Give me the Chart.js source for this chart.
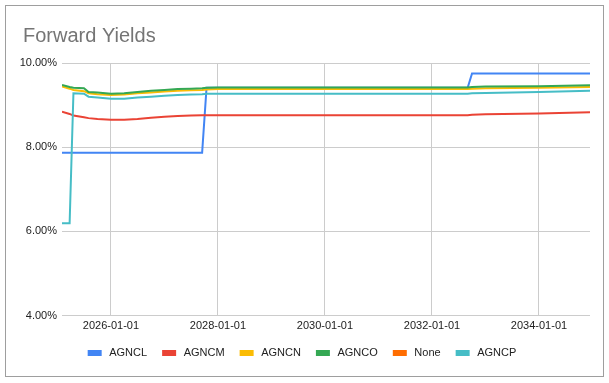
<!DOCTYPE html>
<html>
<head>
<meta charset="utf-8">
<script src="https://cdn.jsdelivr.net/npm/chart.js@4"></script>
<style>
  body { margin: 0; background: #fff; }
  #wrap { position: absolute; left: 0; top: 0; width: 609px; height: 383px; }
  #frame { position: absolute; left: 5px; top: 5px; width: 599px; height: 372px; border: 1px solid #9e9e9e; box-sizing: border-box; pointer-events: none; }
</style>
</head>
<body>
<div id="wrap"><canvas id="grafico" width="609" height="383"></canvas></div>
<div id="frame"></div>
<script>
// sample dates (shared by all series)
const datas = ['2025-02-01', '2025-03-25', '2025-04-20', '2025-07-01', '2025-08-01', '2025-10-01',
  '2026-01-01', '2026-04-01', '2026-07-01', '2026-10-01', '2027-01-01', '2027-04-01', '2027-07-01',
  '2027-09-15', '2027-10-15', '2028-01-01', '2029-01-01', '2030-01-01', '2031-01-01', '2032-01-01',
  '2032-09-01', '2032-10-01', '2033-01-01', '2034-01-01', '2034-12-15'];

const agncl = [7.87, 7.87, 7.87, 7.87, 7.87, 7.87, 7.87, 7.87, 7.87, 7.87, 7.87, 7.87, 7.87,
  7.87, 9.41, 9.41, 9.41, 9.41, 9.41, 9.41, 9.41, 9.75, 9.75, 9.75, 9.75];
const agncm = [8.84, 8.79, 8.75, 8.71, 8.69, 8.67, 8.65, 8.65, 8.67, 8.70, 8.72, 8.74, 8.75,
  8.76, 8.76, 8.76, 8.76, 8.76, 8.76, 8.76, 8.76, 8.77, 8.78, 8.80, 8.83];
const agncn = [9.44, 9.39, 9.36, 9.33, 9.28, 9.26, 9.24, 9.25, 9.28, 9.30, 9.32, 9.34, 9.35,
  9.36, 9.37, 9.38, 9.38, 9.38, 9.38, 9.38, 9.38, 9.39, 9.40, 9.41, 9.43];
const agnco = [9.48, 9.43, 9.41, 9.40, 9.31, 9.30, 9.27, 9.28, 9.31, 9.34, 9.36, 9.38, 9.39,
  9.40, 9.41, 9.42, 9.42, 9.42, 9.42, 9.42, 9.42, 9.43, 9.44, 9.45, 9.47];
const none = [];
const agncp = [6.19, 6.19, 9.28, 9.27, 9.20, 9.18, 9.15, 9.15, 9.18, 9.20, 9.22, 9.24, 9.25,
  9.26, 9.27, 9.27, 9.27, 9.27, 9.27, 9.27, 9.27, 9.28, 9.29, 9.31, 9.34];

const series = ['AGNCL', 'AGNCM', 'AGNCN', 'AGNCO', 'None', 'AGNCP'];
const cores = ['#4285f4', '#ea4335', '#fbbc04', '#34a853', '#ff6d01', '#46bdc6'];
const xTicks = [2026, 2028, 2030, 2032, 2034];
const yTicks = [4, 6, 8, 10];
const titulo = 'Forward Yields';

// date string -> decimal year
function anoDecimal(s) {
  const d = new Date(s + 'T00:00:00Z');
  const ini = Date.UTC(d.getUTCFullYear(), 0, 1);
  const fim = Date.UTC(d.getUTCFullYear() + 1, 0, 1);
  return d.getUTCFullYear() + (d - ini) / (fim - ini);
}
const xs = datas.map(anoDecimal);

function pontos(vals) {
  return vals.map((v, i) => ({ x: xs[i], y: v }));
}

const valores = [agncl, agncm, agncn, agnco, none, agncp];

const fonte = "'Liberation Sans', Arial, sans-serif";
Chart.defaults.font.family = fonte;

// title drawn at the left edge of the frame, like the sheets chart
const tituloPlugin = {
  id: 'tituloPlugin',
  afterDraw(chart) {
    const c = chart.ctx;
    c.save();
    c.font = '20px ' + fonte;
    c.fillStyle = '#757575';
    c.textBaseline = 'alphabetic';
    c.textAlign = 'left';
    c.fillText(titulo, 23, 42);
    c.restore();
  }
};

const ctx = document.getElementById('grafico');
new Chart(ctx, {
  type: 'line',
  data: {
    datasets: series.map((nome, i) => ({
      label: nome,
      data: pontos(valores[i]),
      borderColor: cores[i],
      backgroundColor: cores[i],
      borderWidth: 2,
      pointRadius: 0,
      tension: 0,
      order: series.length - i
    }))
  },
  options: {
    responsive: false,
    animation: false,
    devicePixelRatio: 1,
    layout: { padding: { left: 15, right: 19, top: 63, bottom: 14.5 } },
    plugins: {
      title: { display: false },
      legend: {
        position: 'bottom',
        labels: {
          boxWidth: 12,
          boxHeight: 4,
          padding: 16,
          color: '#222',
          font: { size: 11 },
          // a little more room between the box and the name
          generateLabels: (chart) => Chart.defaults.plugins.legend.labels.generateLabels(chart)
            .map(item => Object.assign(item, { text: ' ' + item.text })),
          sort: (a, b) => a.datasetIndex - b.datasetIndex
        }
      },
      tooltip: { enabled: false }
    },
    scales: {
      x: {
        type: 'linear',
        min: xs[0],
        max: xs[xs.length - 1],
        afterBuildTicks: (s) => { s.ticks = xTicks.map(v => ({ value: v })); },
        afterFit: (s) => { s.height = 16; },
        grid: { color: '#cccccc', drawTicks: false },
        border: { display: false },
        ticks: {
          padding: 4,
          color: '#222',
          font: { size: 11 },
          maxRotation: 0,
          callback: (v) => Math.round(v) + '-01-01'
        }
      },
      y: {
        min: 4,
        max: 10,
        afterBuildTicks: (s) => { s.ticks = yTicks.map(v => ({ value: v })); },
        afterFit: (s) => { s.width = 47; },
        grid: { color: '#cccccc', drawTicks: false },
        border: { display: false },
        ticks: {
          padding: 5,
          color: '#222',
          font: { size: 11 },
          callback: (v) => v.toFixed(2) + '%'
        }
      }
    }
  },
  plugins: [tituloPlugin]
});
</script>
</body>
</html>
